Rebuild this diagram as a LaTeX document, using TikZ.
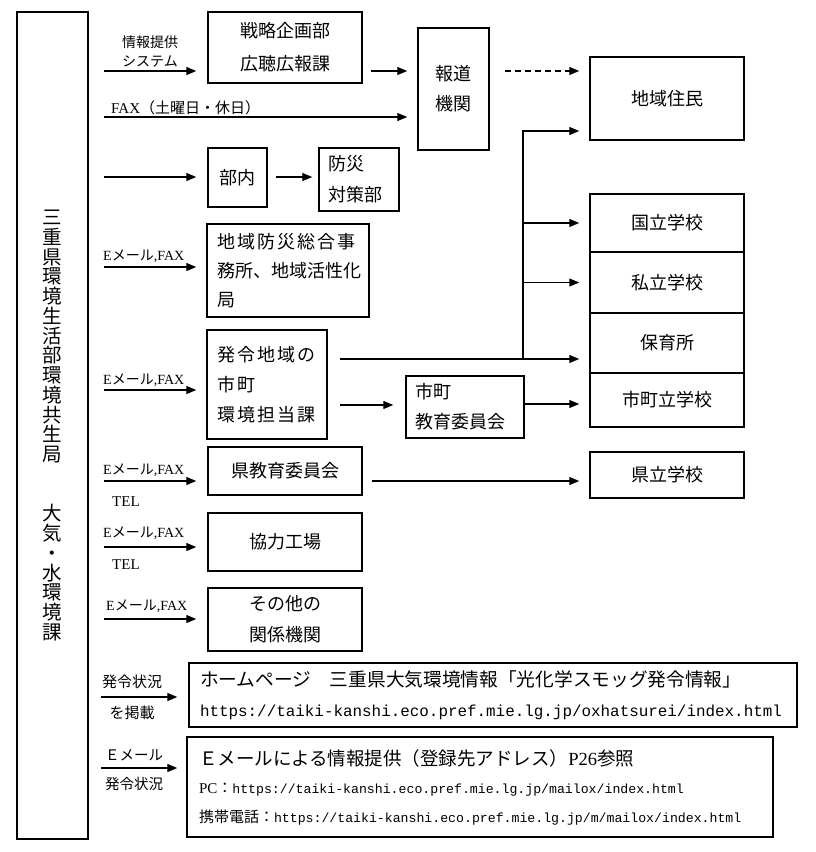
\documentclass[tikz,border=0pt]{standalone}
\usepackage{fontspec}
\setmainfont{Noto Sans CJK JP}
\newfontfamily\jp{Noto Sans CJK JP}
\newfontfamily\jpw{Noto Sans CJK JP}[LetterSpace=12]
\newfontfamily\lser{Liberation Serif}
\newfontfamily\lmono{Liberation Mono}
\usetikzlibrary{arrows.meta}
\newcommand\fsz[2]{\fontsize{#1}{#2}\selectfont}
\begin{document}
\begin{tikzpicture}[x=1pt,y=-1pt,
  bx/.style={draw, line width=1.5pt, inner xsep=0pt, inner ysep=0pt, align=center, font=\fsz{18}{30}},
  arr/.style={line width=1.3pt, -{Triangle[length=10pt,width=8pt]}},
  lab/.style={inner sep=0pt, align=center, font=\fsz{14}{19}},
]
\useasboundingbox (0,0) rectangle (816,852);

% left box
\node[bx, minimum width=71pt, minimum height=827pt, font=\fsz{19.5}{19.74}] (L) at (52.5,425.5)
 {三\\重\\県\\環\\境\\生\\活\\部\\環\\境\\共\\生\\局\\\mbox{}\\\mbox{}\\大\\気\\・\\水\\環\\境\\課};

% boxes
\node[bx, minimum width=154pt, minimum height=71pt, font=\fsz{18}{33}] (senryaku) at (285,47.5) {戦略企画部\\広聴広報課};
\node[bx, minimum width=71pt, minimum height=122pt] (houdou) at (453.5,89) {報道\\機関};
\node[bx, minimum width=154pt, minimum height=83pt] (jumin) at (667,98.5) {地域住民};
\node[bx, minimum width=59pt, minimum height=59pt] (bunai) at (237.5,177.5) {部内};
\node[bx, minimum width=80pt, minimum height=63pt, inner xsep=9pt, text width=62pt, align=left, font=\fsz{18}{31}] (bousai) at (359,179.5) {防災\\対策部};
\node[bx, minimum width=162pt, minimum height=93pt, inner xsep=10pt, text width=142pt, align=left, font=\jpw\fsz{18}{29}] (chiiki) at (288,270.5) {地域防災総合事\\{\jp 務所、地域活性化}\\局};
\node[bx, minimum width=120pt, minimum height=109pt, inner xsep=10pt, text width=100pt, align=left, font=\jpw\fsz{18}{30}] (hatsurei) at (267,384.5) {発令地域の\\市町\\環境担当課};
\node[bx, minimum width=118pt, minimum height=62pt, inner xsep=9pt, text width=100pt, align=left, font=\fsz{18}{30}] (shikyoi) at (465,407) {市町\\教育委員会};

\node[bx, minimum width=154pt, minimum height=58pt] (kokuritsu) at (667,223) {国立学校};
\node[bx, minimum width=154pt, minimum height=61pt] (shiritsu) at (667,282.5) {私立学校};
\node[bx, minimum width=154pt, minimum height=60pt] (hoiku) at (667,343) {保育所};
\node[bx, minimum width=154pt, minimum height=54pt] (shichou) at (667,400) {市町立学校};
\node[bx, minimum width=154pt, minimum height=46pt] (kenritsu) at (667,475) {県立学校};

\node[bx, minimum width=154pt, minimum height=48pt] (kenkyoi) at (285,471) {県教育委員会};
\node[bx, minimum width=154pt, minimum height=58pt] (kyouryoku) at (285,542) {協力工場};
\node[bx, minimum width=154pt, minimum height=63pt, font=\fsz{18}{31}] (sonota) at (285,619.5) {その他の\\関係機関};

\node[bx, minimum width=608pt, minimum height=64pt, inner xsep=11pt, text width=586pt, align=left, font=\fsz{18.7}{30}] (hp) at (493,695)
 {ホームページ　三重県大気環境情報「光化学スモッグ発令情報」\\{\lmono\fsz{15.9}{30}https://taiki-kanshi.eco.pref.mie.lg.jp/oxhatsurei/index.html}};
\node[bx, minimum width=586pt, minimum height=100pt, inner xsep=12pt, text width=562pt, align=left, font=\fsz{18.5}{28.5}] (mail) at (480,787)
 {Ｅメールによる情報提供（登録先アドレス）{\lser P26}参照\\
  {\fsz{15}{28.5}{\lser PC}：{\lmono\fsz{13.2}{28.5}https://taiki-kanshi.eco.pref.mie.lg.jp/mailox/index.html}}\\
  {\fsz{15}{28.5}携帯電話：{\lmono\fsz{13.2}{28.5}https://taiki-kanshi.eco.pref.mie.lg.jp/m/mailox/index.html}}};

% labels
\node[lab] (t1) at (150,51.5) {情報提供\\システム};
\node[lab, anchor=west, font=\fsz{15}{19}] (t2) at (111,108) {{\lser FAX}（土曜日・休日）};
\node[lab, anchor=west] (t3) at (103,256) {{\lser E}メール{\lser ,FAX}};
\node[lab, anchor=west] (t4) at (103,380) {{\lser E}メール{\lser ,FAX}};
\node[lab, anchor=west] (t5) at (103,470) {{\lser E}メール{\lser ,FAX}};
\node[lab, anchor=west, font=\lser\fsz{15}{19}] (t6) at (112,502) {TEL};
\node[lab, anchor=west] (t7) at (103,533) {{\lser E}メール{\lser ,FAX}};
\node[lab, anchor=west, font=\lser\fsz{15}{19}] (t8) at (112,565) {TEL};
\node[lab, anchor=west] (t9) at (106,606) {{\lser E}メール{\lser ,FAX}};
\node[lab, font=\fsz{15}{31}] (t10) at (132,697.5) {発令状況\\を掲載};
\node[lab, font=\fsz{14.5}{29}] (t11) at (134,770) {Ｅメール\\発令状況};

% connectors
\draw[arr, shorten <=15pt, shorten >=11pt] (L.east |- 0,71) -- (senryaku.west |- 0,71);
\draw[arr, shorten <=8pt, shorten >=10pt] (senryaku.east |- 0,71) -- (houdou.west |- 0,71);
\draw[arr, shorten <=15pt, shorten >=10pt] (L.east |- 0,117) -- (houdou.west |- 0,117);
\draw[arr, dash pattern=on 6pt off 4pt, shorten <=15pt, shorten >=10pt] (houdou.east |- 0,71) -- (jumin.west |- 0,71);
\draw[arr, shorten <=15pt, shorten >=11pt] (L.east |- 0,177) -- (bunai.west |- 0,177);
\draw[arr, shorten <=8pt, shorten >=6pt] (bunai.east |- 0,177) -- (bousai.west |- 0,177);
\draw[arr, shorten <=15pt, shorten >=10pt] (L.east |- 0,267) -- (chiiki.west |- 0,267);
\draw[arr, shorten <=15pt, shorten >=10pt] (L.east |- 0,390) -- (hatsurei.west |- 0,390);
\draw[arr, shorten <=12pt, shorten >=10pt] (hatsurei.east |- 0,359) -- (hoiku.west |- 0,359);
\coordinate (br) at (523,359);
\draw[arr, shorten >=10pt] (br) -- (br |- 0,131) -- (jumin.west |- 0,131);
\draw[arr, shorten >=10pt] (br |- kokuritsu) -- (kokuritsu);
\draw[arr, shorten >=10pt] (br |- shiritsu) -- (shiritsu);
\draw[arr, shorten <=12pt, shorten >=12pt] (hatsurei.east |- 0,405) -- (shikyoi.west |- 0,405);
\draw[arr, shorten >=10pt] (shikyoi.east |- 0,404) -- (shichou.west |- 0,404);
\draw[arr, shorten <=15pt, shorten >=11pt] (L.east |- 0,481) -- (kenkyoi.west |- 0,481);
\draw[arr, shorten <=9pt, shorten >=10pt] (kenkyoi.east |- 0,481) -- (kenritsu.west |- 0,481);
\draw[arr, shorten <=15pt, shorten >=11pt] (L.east |- 0,547) -- (kyouryoku.west |- 0,547);
\draw[arr, shorten <=15pt, shorten >=11pt] (L.east |- 0,619) -- (sonota.west |- 0,619);
\draw[arr, shorten <=12pt, shorten >=11pt] (L.east |- 0,697) -- (hp.west |- 0,697);
\draw[arr, shorten <=12pt, shorten >=9pt] (L.east |- 0,768) -- (mail.west |- 0,768);
\end{tikzpicture}
\end{document}
